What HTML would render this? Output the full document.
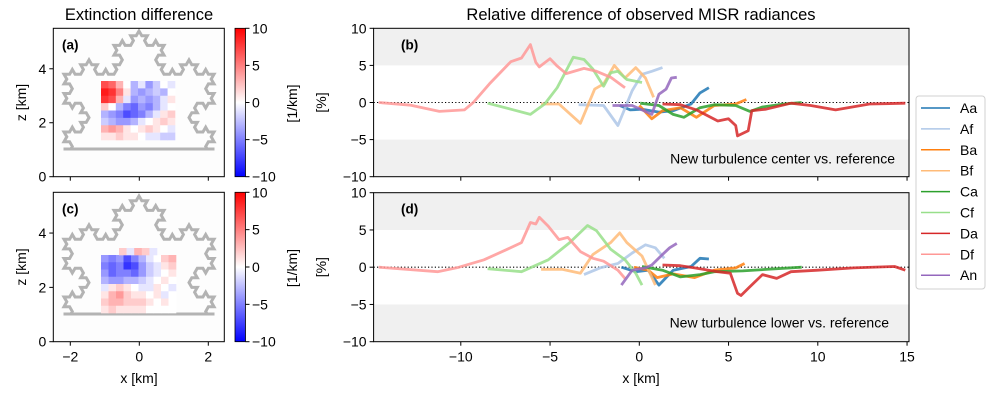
<!DOCTYPE html>
<html><head><meta charset="utf-8">
<style>
body{margin:0;background:#fff;}
svg{display:block;font-family:"Liberation Sans","DejaVu Sans",sans-serif;}
</style></head>
<body>
<svg id="fig" width="1000" height="400" viewBox="0 0 1000 400" xmlns="http://www.w3.org/2000/svg">
<defs>
<linearGradient id="bwr" x1="0" y1="1" x2="0" y2="0">
<stop offset="0" stop-color="#0000ff"/><stop offset="0.5" stop-color="#ffffff"/><stop offset="1" stop-color="#ff0000"/>
</linearGradient>
<clipPath id="clipA"><rect x="40" y="20" width="200" height="129.5"/></clipPath>
<clipPath id="clipC"><rect x="40" y="185" width="200" height="129.5"/></clipPath>
<clipPath id="clipB"><rect x="373.6" y="28.3" width="535.4" height="148.4"/></clipPath>
<clipPath id="clipD"><rect x="373.6" y="192.7" width="535.4" height="149"/></clipPath>
</defs>
<text x="139" y="20" font-size="16.5" text-anchor="middle">Extinction difference</text>
<text x="641" y="20" font-size="16.5" text-anchor="middle">Relative difference of observed MISR radiances</text>
<g id="left"></g>
<g id="right"></g>
<g>
<rect x="916" y="96" width="69" height="193" rx="3" fill="#fff" stroke="#d0d0d0"/>
<g id="legend"></g>
</g>
</svg>
<script>
const NS="http://www.w3.org/2000/svg";
function mk(tag,attrs,parent,txt){const e=document.createElementNS(NS,tag);for(const k in attrs)e.setAttribute(k,attrs[k]);if(txt!==undefined)e.textContent=txt;parent.appendChild(e);return e;}

// ---------- data: extinction difference grids ----------
const gridA=[
[7,6,3,0,-3,-1,-4,-2,0,-1],
[9,8,5,1,-3,-4,-3,-2,-3,0],
[8,7,3,-1,-4,-3,-4,-3,-1,1],
[2,0,-3,-5,-6,-4,-5,-3,-1,0],
[-3,-4,-5,-7,-6,-5,-3,-1,1,2],
[-2,-3,-4,-4,-3,-1,0,1,2,1],
[3,4,3,1,0,1,2,1,0,-1],
[1,1,2,1,1,0,-1,-1,-2,-2]];
const notchC=[2,-1,3,2,-1];
const gridC=[
[-4,-5,-4,-7,-5,-3,-1,0,2,3],
[-5,-6,-5,-8,-7,-4,-2,-1,1,2],
[-4,-6,-5,-5,-6,-4,-2,-1,0,1],
[-3,-4,-4,-3,-3,-2,-1,0,1,0],
[-1,1,2,1,0,-1,-1,1,0,-1],
[1,3,4,2,1,1,0,1,-1,0],
[2,3,3,2,2,2,1,0,1,0],
[1,2,1,1,1,1,0,0,0,0]];
const zTicks=[0,2,4];
const xTicksL=[-2,0,2];
const cbTicks=[10,5,0,-5,-10];

// ---------- data: radiance differences ----------
const seriesNames=["Aa","Af","Ba","Bf","Ca","Cf","Da","Df","An"];
const seriesColors=["#1f77b4","#aec7e8","#ff7f0e","#ffbb78","#2ca02c","#98df8a","#d62728","#ff9896","#9467bd"];
const topX={
Df:[-14.6,-12.8,-11.2,-9.8,-9.3,-8.4,-7.2,-6.6,-6.1,-5.8,-5.6,-5.0,-4.6,-4.1,-3.1,-2.4,-1.6,-0.8],
Cf:[-8.5,-7.2,-6.1,-5.3,-4.6,-3.7,-3.1,-2.6,-2.0,-1.6,-1.2,-0.7,0.15],
Bf:[-5.5,-4.5,-3.3,-2.5,-2.0,-1.4,-0.8,-0.2,0.35,0.8],
Af:[-3.4,-2.0,-1.2,-0.4,0.15,0.7,1.3],
An:[-1.5,-0.4,0.7,1.1,1.5,1.8,2.1],
Aa:[-1.1,-0.5,0.15,1.1,1.9,2.9,3.4,3.9],
Ba:[0,0.7,1.3,2.3,3.2,4.2,5.4,6.0],
Ca:[0.05,1.1,1.9,2.5,3.4,4.2,5.4,6.2,6.9,8.1,9.1],
Da:[1.3,2.3,3.2,4.4,5.0,5.4,5.5,6.1,6.3,7.1,8.5,9.6,11.0,12.9,14.9]};
const topY={
Df:[0,-0.36,-1.2,-1.0,0,2.5,5.5,6.0,7.8,5.4,4.8,5.9,4.9,3.9,4.6,4.2,3.4,2.0],
Cf:[-0.1,-0.9,-1.6,-0.2,2.0,6.1,5.8,4.5,2.2,4.0,4.2,3.1,2.7],
Bf:[-0.2,-0.2,-2.8,1.8,2.5,5.0,3.3,4.7,3.3,0.7],
Af:[-0.3,-0.4,-3.1,1.6,3.8,4.2,4.7],
An:[-0.4,-0.4,-1.6,1.1,1.8,3.3,3.4],
Aa:[-0.4,-1.0,-0.9,-1.3,-1.1,-0.2,1.3,2.0],
Ba:[-0.4,-2.2,-1.1,-0.7,-2.0,-0.4,-0.2,0.4],
Ca:[-0.1,-0.4,-1.6,-2.0,-0.7,-0.3,-0.4,-1.2,-0.6,-0.2,0],
Da:[-0.2,-0.3,-1.0,-2.5,-2.2,-3.1,-4.5,-3.8,-1.1,-0.9,-0.1,-0.4,-1.0,-0.2,-0.1]};
const botX={
Df:[-14.6,-11.3,-10.1,-8.7,-7.4,-6.6,-6.1,-5.8,-5.6,-5.1,-4.5,-4.0,-3.3,-2.6,-2.0,-1.2,-0.8],
Cf:[-8.5,-6.6,-5.1,-3.9,-2.9,-2.4,-1.6,-0.8,-0.2,0.15],
Bf:[-5.5,-4.3,-3.3,-2.6,-1.6,-1.1,-0.7,0.15,0.9],
Af:[-3.1,-2.2,-1.2,-0.4,0.35,0.9,1.4],
An:[-1.0,-0.4,0.35,0.7,1.3,1.7,2.1],
Aa:[-1.0,-0.2,0.5,1.1,1.9,2.9,3.4,3.9],
Ba:[-0.3,0.5,1.0,1.9,3.1,4.2,5.4,5.9],
Ca:[0.15,1.3,2.3,3.4,4.2,5.8,7.1,9.1],
Da:[1.3,2.3,3.1,4.4,5.1,5.5,5.7,6.2,6.9,7.7,8.5,10.0,12.0,14.3,14.9]};
const botY={
Df:[0,-0.6,0,1.0,2.4,3.3,6.0,5.8,6.7,5.5,3.7,4.0,2.1,1.2,0.8,-0.4,-1.5],
Cf:[-0.2,-0.6,1.0,3.3,5.6,4.9,2.4,1.0,-0.8,-2.4],
Bf:[-0.3,-0.3,-0.8,1.7,3.3,4.6,3.3,1.5,-2.4],
Af:[-1.0,-0.1,0.5,1.9,3.0,2.6,1.2],
An:[-2.4,-0.4,-0.1,0.3,1.7,2.6,3.2],
Aa:[0,-0.6,-0.4,-2.4,-0.4,0.1,1.2,1.1],
Ba:[0,-0.4,-1.4,-0.9,-1.4,-0.4,-0.1,0.5],
Ca:[0.1,-0.4,-1.3,-1.0,-0.6,-0.5,-0.3,0],
Da:[0.3,0.2,-0.1,-0.6,-0.8,-3.5,-3.8,-2.6,-1.0,-1.5,-0.6,-0.4,-0.1,0.1,-0.4]};
const yTicksR=[10,5,0,-5,-10];
const xTicksR=[-10,-5,0,5,10,15];

// ---------- helpers ----------
function bwr(v){let t=Math.max(0,Math.min(1,(v+10)/20));let r,g,b;
 if(t<0.5){r=g=Math.round(2*t*255);b=255;}else{r=255;g=b=Math.round((2-2*t)*255);}
 return `rgb(${r},${g},${b})`;}

function koch(cx,cy,R,order){
 let pts=[90,330,210].map(a=>[cx+R*Math.cos(a*Math.PI/180),cy-R*Math.sin(a*Math.PI/180)]);
 pts.push(pts[0]);
 for(let o=0;o<order;o++){const np=[];
  for(let i=0;i<pts.length-1;i++){const [x1,y1]=pts[i],[x2,y2]=pts[i+1];
   const dx=(x2-x1)/3,dy=(y2-y1)/3;const a=[x1+dx,y1+dy],b=[x1+2*dx,y1+2*dy];
   const c=Math.cos(-Math.PI/3),s=Math.sin(-Math.PI/3);
   const p=[a[0]+dx*c-dy*s,a[1]+dx*s+dy*c];
   np.push(pts[i],a,p,b);}
  np.push(pts[pts.length-1]);pts=np;}
 return pts.map((p,i)=>(i?'L':'M')+p[0].toFixed(1)+' '+p[1].toFixed(1)).join('')+'Z';}

const L=document.getElementById('left');
function leftPanel(top,bottom,label,grid,notch,hx0,hx1,hy0,hy1,notchBox,clip,base){
 const ax0=53.3,ax1=224.3;
 const g=mk('g',{},L);
 
 
 mk('rect',{x:ax0,y:top,width:ax1-ax0,height:bottom-top,fill:'#fdfdfd'},g);
 const sf=mk('path',{d:koch(139,base-31.4,86.6,3),fill:'none',stroke:'#b3b3b3','stroke-width':3,'clip-path':`url(#${clip})`},g);
 
 
 const bl=mk('line',{x1:63.5,x2:214.5,y1:base,y2:base,stroke:'#b3b3b3','stroke-width':3},g);
 
 
 const hm=mk('g',{},g);
 
 
 const rows=grid.length,cols=grid[0].length,cw=(hx1-hx0)/cols,ch=(hy1-hy0)/rows;
 grid.forEach((row,r)=>row.forEach((v,c)=>{
  const cell=mk('rect',{x:hx0+c*cw,y:hy0+r*ch,width:cw+0.3,height:ch+0.3,fill:bwr(v)},hm);
  
  }));
 if(notch){const nw=(notchBox[1]-notchBox[0])/notch.length;
  notch.forEach((v,c)=>{const cell=mk('rect',{x:notchBox[0]+c*nw,y:notchBox[2],width:nw+0.3,height:notchBox[3]-notchBox[2]+0.3,fill:bwr(v)},hm);
  
  });}
 const fr=mk('rect',{x:ax0,y:top,width:ax1-ax0,height:bottom-top,fill:'none',stroke:'#000','stroke-width':1},g);
 
 
 const pz=(bottom-top)/5.5;
 zTicks.forEach(z=>{const y=bottom-z*pz;
  mk('line',{x1:ax0-4,x2:ax0,y1:y,y2:y,stroke:'#000'},g);
  const t=mk('text',{x:ax0-7,y:y+5,'font-size':14,'text-anchor':'end'},g,String(z));
  
  });
 xTicksL.forEach(x=>{const px=139.3+x*34.5;
  mk('line',{x1:px,x2:px,y1:bottom,y2:bottom+4,stroke:'#000'},g);
  if(label==='c'){const t=mk('text',{x:px,y:bottom+20,'font-size':14,'text-anchor':'middle'},g,x<0?'\u2212'+(-x):String(x));
  
  }});
 const yl=mk('text',{x:0,y:0,'font-size':14,'text-anchor':'middle',transform:`translate(26 ${(top+bottom)/2}) rotate(-90)`},g,'z [km]');
 
 
 const pl=mk('text',{x:62,y:top+21,'font-size':13.5,'font-weight':'bold'},g,'('+label+')');
 
 
 const cb=mk('rect',{x:235,y:top,width:10.5,height:bottom-top,fill:'url(#bwr)',stroke:'#000','stroke-width':0.8},g);
 
 
 cbTicks.forEach(v=>{const y=top+(10-v)/20*(bottom-top);
  mk('line',{x1:245.5,x2:249.5,y1:y,y2:y,stroke:'#000'},g);
  const t=mk('text',{x:252,y:y+5,'font-size':14},g,v<0?'\u2212'+(-v):String(v));
  
  });
 const ct=mk('text',{x:0,y:0,'font-size':14,'text-anchor':'middle',transform:`translate(297 ${(top+bottom)/2+1}) rotate(-90)`},g,'[1/km]');
 
 
}
leftPanel(28.3,176.7,'a',gridA,null,101,175,81,140,null,'clipA',149);
leftPanel(192.3,341.7,'c',gridC,notchC,101,176,255,313,[119,157,248,255],'clipC',314);
const xl=mk('text',{x:139,y:383,'font-size':14,'text-anchor':'middle'},L,'x [km]');



// ---------- right panels ----------
const R=document.getElementById('right');
const rx0=373.6,rx1=909;
function xs(x){return 639.3+x*17.85;}
function rightPanel(top,bottom,label,X,Y,clip,note){
 const g=mk('g',{},R);
 
 
 const ys=y=>top+(10-y)/20*(bottom-top);
 mk('rect',{x:rx0,y:top,width:rx1-rx0,height:ys(5)-top,fill:'#f0f0f0'},g);
 mk('rect',{x:rx0,y:ys(-5),width:rx1-rx0,height:bottom-ys(-5),fill:'#f0f0f0'},g);
 const zl=mk('line',{x1:rx0,x2:rx1,y1:ys(0),y2:ys(0),stroke:'#000','stroke-width':1.1,'stroke-dasharray':'1.2 2.2'},g);
 
 
 seriesNames.forEach((n,i)=>{
  const d=X[n].map((x,j)=>(j?'L':'M')+xs(x).toFixed(1)+' '+ys(Y[n][j]).toFixed(1)).join('');
  const p=mk('path',{d:d,fill:'none',stroke:seriesColors[i],'stroke-width':2.8,'stroke-opacity':0.85,'stroke-linejoin':'round','clip-path':`url(#${clip})`},g);
  
  
 });
 const fr=mk('rect',{x:rx0,y:top,width:rx1-rx0,height:bottom-top,fill:'none',stroke:'#000','stroke-width':1},g);
 
 
 yTicksR.forEach(v=>{const y=ys(v);
  mk('line',{x1:rx0-4,x2:rx0,y1:y,y2:y,stroke:'#000'},g);
  const t=mk('text',{x:rx0-7,y:y+5,'font-size':14,'text-anchor':'end'},g,v<0?'\u2212'+(-v):String(v));
  
  });
 xTicksR.forEach(v=>{const x=xs(v);
  mk('line',{x1:x,x2:x,y1:bottom,y2:bottom+4,stroke:'#000'},g);
  if(label==='d'){const t=mk('text',{x:x,y:bottom+20,'font-size':14,'text-anchor':'middle'},g,v<0?'\u2212'+(-v):String(v));
  
  }});
 const yl=mk('text',{x:0,y:0,'font-size':14,'text-anchor':'middle',transform:`translate(326 ${ys(0)}) rotate(-90)`},g,'[%]');
 
 
 const pl=mk('text',{x:401,y:top+21,'font-size':13.5,'font-weight':'bold'},g,'('+label+')');
 
 
 const nt=mk('text',{x:label==='b'?895:889,y:top+135,'font-size':14,'text-anchor':'end'},g,note);
 
 
}
rightPanel(28.3,176.7,'b',topX,topY,'clipB','New turbulence center vs. reference');
rightPanel(192.7,341.7,'d',botX,botY,'clipD','New turbulence lower vs. reference');
const xr=mk('text',{x:641,y:383,'font-size':14,'text-anchor':'middle'},R,'x [km]');



// ---------- legend ----------
const LG=document.getElementById('legend');
seriesNames.forEach((n,i)=>{const y=108+i*20.9;
 const e=mk('g',{},LG);
 
 
 mk('line',{x1:921,x2:950,y1:y,y2:y,stroke:seriesColors[i],'stroke-width':1.5},e);
 mk('text',{x:960,y:y+5,'font-size':14},e,n);
});
</script>
</body></html>
